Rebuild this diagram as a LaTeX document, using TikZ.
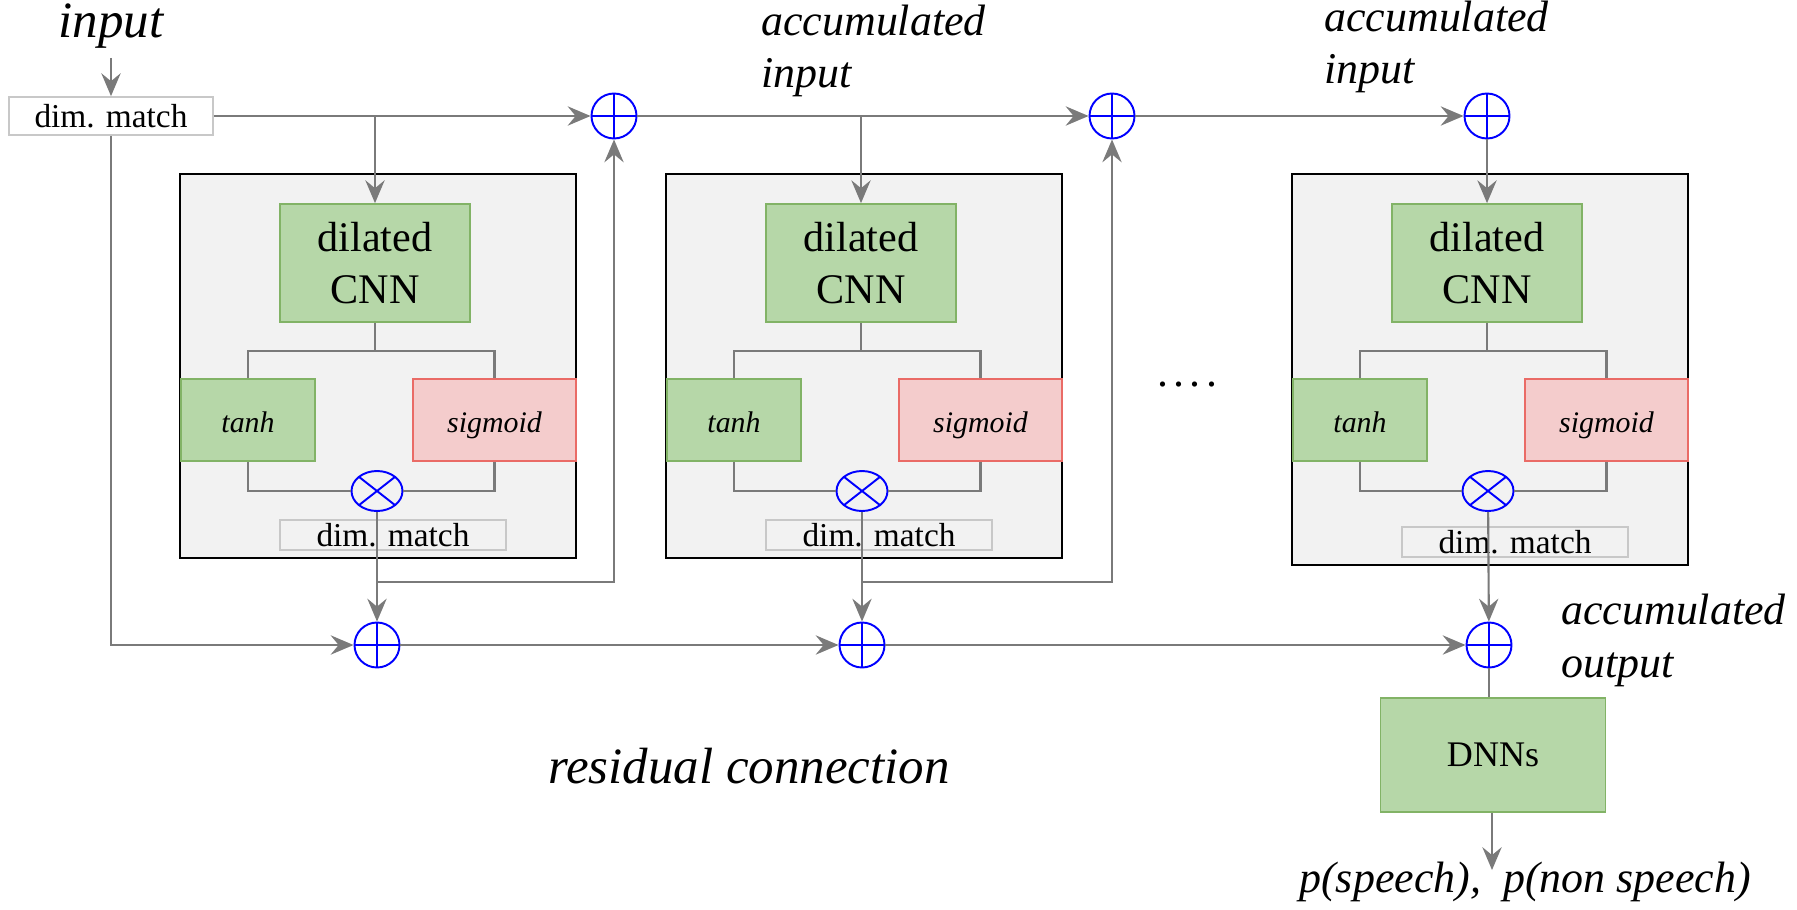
\documentclass[tikz,border=0pt]{standalone}
\usepackage{fontspec}
\setmainfont{Liberation Serif}
\usetikzlibrary{shapes.geometric,arrows.meta}

\definecolor{wire}{HTML}{7A7A7A}
\definecolor{greenfill}{HTML}{B6D7A8}
\definecolor{greenline}{HTML}{82B366}
\definecolor{redfill}{HTML}{F4CCCC}
\definecolor{redline}{HTML}{EA6B66}
\definecolor{blockfill}{HTML}{F2F2F2}
\definecolor{matchline}{HTML}{C8C8C8}

\tikzset{
  wire/.style={draw=wire, line width=1.2pt},
  arr/.style={wire, -{Stealth[length=13pt,width=11pt,inset=4.5pt]}},
  block/.style={draw=black, fill=blockfill, line width=1.4pt},
  cnnbox/.style={draw=greenline, fill=greenfill, line width=1pt, minimum width=3.8cm, minimum height=2.36cm, align=center, font=\fontsize{24}{30}\selectfont},
  tanhbox/.style={draw=greenline, fill=greenfill, line width=1pt, minimum width=2.68cm, minimum height=1.64cm, text height=14pt, text depth=0pt, font=\fontsize{17}{20}\selectfont\itshape},
  sigbox/.style={draw=redline, fill=redfill, line width=1pt, minimum width=3.26cm, minimum height=1.64cm, text height=14pt, text depth=0pt, font=\fontsize{17}{20}\selectfont\itshape},
  matchbox/.style={draw=matchline, line width=1pt, minimum width=4.52cm, minimum height=0.6cm, inner sep=0pt, font=\fontsize{19}{22}\selectfont},
  dnnbox/.style={draw=greenline, fill=greenfill, line width=1pt, minimum width=4.5cm, minimum height=2.28cm, font=\fontsize{20.5}{24}\selectfont},
  plus/.style={circle, draw=blue, line width=1.1pt, minimum size=0.9cm, inner sep=0pt,
    path picture={\draw[blue, line width=1.1pt] (path picture bounding box.north) -- (path picture bounding box.south)
      (path picture bounding box.west) -- (path picture bounding box.east);}},
  times/.style={ellipse, draw=blue, line width=1.1pt, minimum width=1.02cm, minimum height=0.8cm, inner sep=0pt,
    path picture={\draw[blue, line width=1.1pt] (path picture bounding box.north west) -- (path picture bounding box.south east)
      (path picture bounding box.north east) -- (path picture bounding box.south west);}},
  lbl/.style={inner sep=0pt, align=left, font=\fontsize{25}{30}\selectfont\itshape},
  biglbl/.style={inner sep=0pt, font=\fontsize{29}{35}\selectfont\itshape},
}

\begin{document}
\begin{tikzpicture}[x=0.02cm,y=-0.02cm]
\useasboundingbox (0,0) rectangle (1797,909);

% input
\node[biglbl, anchor=base] (inlbl) at (111,38) {input};
\node[matchbox, fill=white, minimum width=4.08cm, minimum height=0.76cm] (dimin) at (111,116) {dim. match};
\draw[arr, shorten <=5pt] (inlbl) -- (dimin);

% summing points
\node[plus] (p1) at (614,116) {};
\node[plus] (p2) at (1112,116) {};
\node[plus] (p3) at (1487,116) {};
\node[plus] (p4) at (377,645) {};
\node[plus] (p5) at (862,645) {};
\node[plus] (p6) at (1489,645) {};

% block 1
\draw[block] (180,174) rectangle (576,558);
\node[cnnbox] (cnn1) at (375,263) {dilated\\CNN};
\node[tanhbox] (tanh1) at (248,420) {tanh};
\node[sigbox] (sig1) at (494.5,420) {sigmoid};
\node[times] (x1) at (377,491) {};
\node[matchbox] (dm1) at (393,535) {dim. match};
\coordinate (s1) at (375,351);
\draw[wire] (cnn1) -- (s1);
\draw[wire] (tanh1.north) |- (s1) -| (sig1.north);
\draw[wire] (tanh1.south) |- (x1);
\draw[wire] (sig1.south) |- (x1);

% block 2
\draw[block] (666,174) rectangle (1062,558);
\node[cnnbox] (cnn2) at (861,263) {dilated\\CNN};
\node[tanhbox] (tanh2) at (734,420) {tanh};
\node[sigbox] (sig2) at (980.5,420) {sigmoid};
\node[times] (x2) at (862,491) {};
\node[matchbox] (dm2) at (879,535) {dim. match};
\coordinate (s2) at (861,351);
\draw[wire] (cnn2) -- (s2);
\draw[wire] (tanh2.north) |- (s2) -| (sig2.north);
\draw[wire] (tanh2.south) |- (x2);
\draw[wire] (sig2.south) |- (x2);

% block 3
\draw[block] (1292,174) rectangle (1688,565);
\node[cnnbox] (cnn3) at (1487,263) {dilated\\CNN};
\node[tanhbox] (tanh3) at (1360,420) {tanh};
\node[sigbox] (sig3) at (1606.5,420) {sigmoid};
\node[times] (x3) at (1488,491) {};
\node[matchbox] (dm3) at (1515,542) {dim. match};
\coordinate (s3) at (1487,351);
\draw[wire] (cnn3) -- (s3);
\draw[wire] (tanh3.north) |- (s3) -| (sig3.north);
\draw[wire] (tanh3.south) |- (x3);
\draw[wire] (sig3.south) |- (x3);

\node[inner sep=0pt, anchor=base west, font=\fontsize{25}{30}\selectfont] (dots) at (1157,386) {.\kern3pt.\kern3pt.\kern3pt.};

% accumulated input path
\coordinate (b1) at (cnn1.north |- p1);
\coordinate (b2) at (cnn2.north |- p2);
\draw[arr] (dimin) -- (p1);
\draw[arr] (p1) -- (p2);
\draw[arr] (p2) -- (p3);
\draw[arr] (b1) -- (cnn1);
\draw[arr] (b2) -- (cnn2);
\draw[arr] (p3) -- (cnn3);

% gated outputs
\draw[arr] (x1) -- (p4);
\draw[arr] (x2) -- (p5);
\draw[arr] (x3) -- (p6);
\coordinate (r1) at (377,582);
\coordinate (r2) at (862,582);
\draw[arr] (r1) -| (p1);
\draw[arr] (r2) -| (p2);

% residual connection path
\draw[arr] (dimin) |- (p4);
\draw[arr] (p4) -- (p5);
\draw[arr] (p5) -- (p6);

% output
\node[dnnbox] (dnn) at (1493,755) {DNNs};
\draw[wire] (p6) -- (p6 |- dnn.north);
\coordinate (out) at (1492,870);
\draw[arr] (dnn.south -| out) -- (out);

% labels
\node[lbl, anchor=base west] (acc1) at (761,88) {accumulated\\input};
\node[lbl, anchor=base west] (acc2) at (1324,84) {accumulated\\input};
\node[lbl, anchor=base west] (acc3) at (1561,677) {accumulated\\output};
\node[biglbl, anchor=base west] (res) at (548,783) {residual connection};
\node[lbl, anchor=base] (prob) at (1525,892) {p(speech),\ \ p(non speech)};
\end{tikzpicture}
\end{document}
